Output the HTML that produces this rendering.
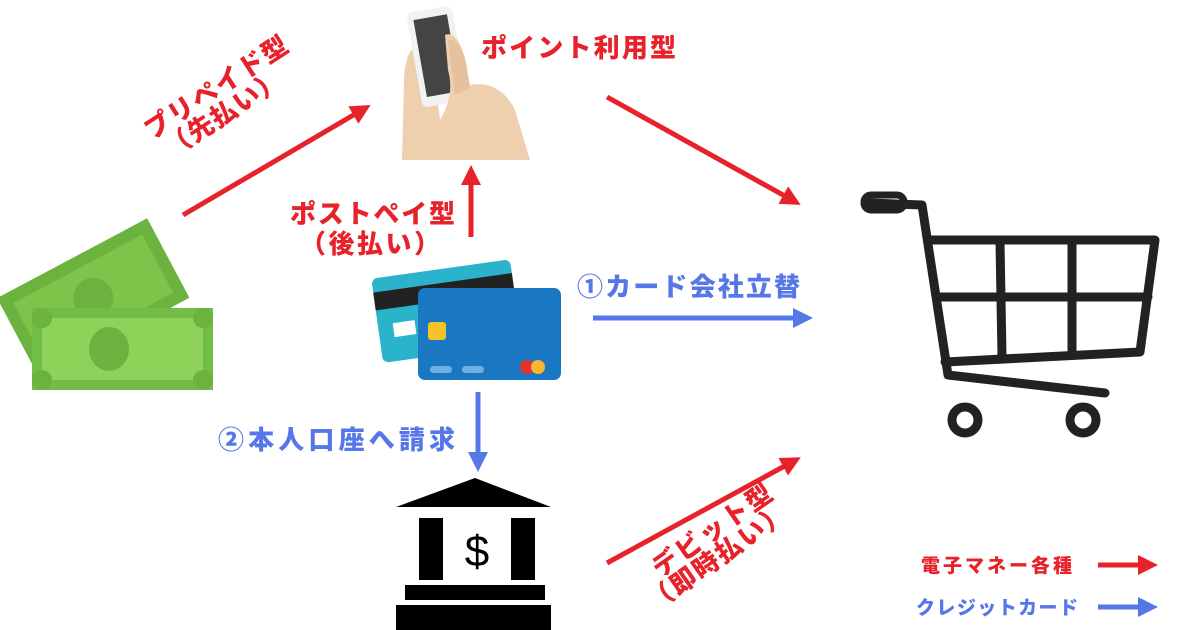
<!DOCTYPE html>
<html><head><meta charset="utf-8"><style>
html,body{margin:0;padding:0;background:#fff;}
svg{display:block}
text{font-family:"Liberation Sans","Noto Sans CJK JP",sans-serif;font-weight:900;}
</style></head><body>
<svg width="1200" height="630" viewBox="0 0 1200 630" xmlns="http://www.w3.org/2000/svg">
<defs>
<marker id="r" markerWidth="4" markerHeight="4" refX="2" refY="2" orient="auto" markerUnits="strokeWidth"><path d="M0,0 L4,2 L0,4 z" fill="#e8222a"/></marker>
<marker id="b" markerWidth="4" markerHeight="4" refX="2" refY="2" orient="auto" markerUnits="strokeWidth"><path d="M0,0 L4,2 L0,4 z" fill="#5677e8"/></marker>
</defs>
<!-- money -->
<g transform="rotate(-28 100 300)">
<rect x="10" y="250" width="170" height="90" fill="#6bb33e"/>
<rect x="22" y="262" width="146" height="66" fill="#7cc44a"/>
<circle cx="95" cy="295" r="20" fill="#6bb33e"/>
</g>
<rect x="32" y="308" width="181" height="82" fill="#72bd45"/>
<rect x="42" y="318" width="161" height="62" fill="#8ed25a"/>
<ellipse cx="109" cy="349" rx="20" ry="22" fill="#6bb33e"/>
<circle cx="42" cy="318" r="10" fill="#6bb33e"/><circle cx="203" cy="318" r="10" fill="#6bb33e"/>
<circle cx="42" cy="380" r="10" fill="#6bb33e"/><circle cx="203" cy="380" r="10" fill="#6bb33e"/>
<!-- phone & hands -->
<path d="M402,160 L404,80 Q405,50 418,45 L432,60 L440,120 L455,160 Z" fill="#eecfae"/>
<g transform="rotate(-10 440 50)"><rect x="413" y="8" width="46" height="96" rx="6" fill="#f2f2f2"/><rect x="419" y="16" width="34" height="78" fill="#444"/></g>
<path d="M445,35 Q458,30 465,60 L470,85 Q500,80 515,110 L530,160 L450,160 L440,120 Q455,95 448,70 Z" fill="#eecfae"/>
<path d="M448,40 Q460,38 466,62 L470,88 L455,95 Z" fill="#e6c19c"/>
<!-- cards -->
<g transform="rotate(-8 450 300)">
<rect x="375" y="268" width="140" height="85" rx="6" fill="#2bb3cc"/>
<rect x="375" y="282" width="140" height="18" fill="#222"/>
<rect x="390" y="315" width="22" height="14" fill="#fff"/>
</g>
<rect x="418" y="288" width="143" height="92" rx="7" fill="#1a78c2"/>
<rect x="428" y="322" width="18" height="18" rx="3" fill="#f5c22a"/>
<rect x="430" y="366" width="22" height="7" rx="3.5" fill="#6fb0e3"/>
<rect x="462" y="366" width="22" height="7" rx="3.5" fill="#6fb0e3"/>
<circle cx="527" cy="367" r="7" fill="#e6322c"/><circle cx="538" cy="367" r="7" fill="#f7b731"/>
<!-- bank -->
<path d="M396,507 L475,478 L551,507 Z" fill="#000"/>
<rect x="419" y="518" width="24" height="62" fill="#000"/>
<rect x="511" y="518" width="24" height="62" fill="#000"/>
<text x="477" y="566" font-size="44" text-anchor="middle" fill="#000" style="font-weight:400">$</text>
<rect x="405" y="585" width="140" height="15" fill="#000"/>
<rect x="396" y="605" width="155" height="25" fill="#000"/>
<!-- cart -->
<g fill="none" stroke="#222" stroke-width="9" stroke-linecap="round" stroke-linejoin="round">
<path d="M870,203 L922,205 L948,375 L1105,393"/>
<path d="M930,240 L1155,240 L1140,352 L945,362"/>
<path d="M938,297 L1148,297"/>
<path d="M1000,242 L1002,357 M1072,242 L1072,355"/>
</g>
<rect x="864" y="195" width="40" height="15" rx="7" fill="none" stroke="#222" stroke-width="7"/>
<circle cx="965" cy="420" r="13" fill="none" stroke="#222" stroke-width="9"/>
<circle cx="1083" cy="420" r="13" fill="none" stroke="#222" stroke-width="9"/>
<!-- arrows -->
<g stroke-width="5" fill="none">
<line x1="183" y1="215" x2="362" y2="110" stroke="#e8222a" marker-end="url(#r)"/>
<line x1="607" y1="97" x2="792" y2="200" stroke="#e8222a" marker-end="url(#r)"/>
<line x1="471" y1="237" x2="471" y2="175" stroke="#e8222a" marker-end="url(#r)"/>
<line x1="607" y1="563" x2="792" y2="462" stroke="#e8222a" marker-end="url(#r)"/>
<line x1="593" y1="318" x2="803" y2="318" stroke="#5677e8" marker-end="url(#b)"/>
<line x1="478" y1="392" x2="478" y2="462" stroke="#5677e8" marker-end="url(#b)"/>
<line x1="1098" y1="565" x2="1148" y2="565" stroke="#e8222a" marker-end="url(#r)"/>
<line x1="1098" y1="607" x2="1148" y2="607" stroke="#5677e8" marker-end="url(#b)"/>
</g>
<!-- labels -->
<g fill="#e8222a">
<text x="481" y="57" font-size="26" textLength="195" lengthAdjust="spacing">ポイント利用型</text>
<text x="290" y="223" font-size="26" textLength="165" lengthAdjust="spacing">ポストペイ型</text>
<text x="300" y="253" font-size="26" textLength="140" lengthAdjust="spacing">（後払い）</text>
<text transform="translate(152,140) rotate(-33)" font-size="26" textLength="165" lengthAdjust="spacing">プリペイド型</text>
<text transform="translate(172,158) rotate(-33)" font-size="26" textLength="135" lengthAdjust="spacing">（先払い）</text>
<text transform="translate(660,578) rotate(-35)" font-size="26" textLength="140" lengthAdjust="spacing">デビット型</text>
<text transform="translate(655,612) rotate(-35)" font-size="26" textLength="165" lengthAdjust="spacing">（即時払い）</text>
<text x="921" y="572" font-size="19" textLength="151" lengthAdjust="spacing">電子マネー各種</text>
</g>
<g fill="#5677e8">
<text x="577" y="296" font-size="26" textLength="223" lengthAdjust="spacing">①カード会社立替</text>
<text x="218" y="449" font-size="26" textLength="237" lengthAdjust="spacing">②本人口座へ請求</text>
<text x="916" y="614" font-size="19" textLength="162" lengthAdjust="spacing">クレジットカード</text>
</g>
</svg>
</body></html>
